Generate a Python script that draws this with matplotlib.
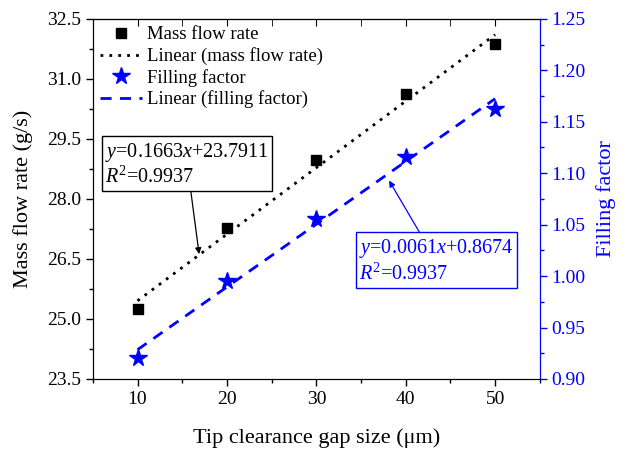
import matplotlib
matplotlib.use("Agg")
import matplotlib.pyplot as plt
from matplotlib.ticker import MultipleLocator

plt.rcParams['font.family'] = ['Liberation Serif', 'DejaVu Serif']
plt.rcParams['mathtext.fontset'] = 'custom'
plt.rcParams['mathtext.rm'] = 'Liberation Serif'
plt.rcParams['mathtext.it'] = 'Liberation Serif:italic'

# data
gap = [10, 20, 30, 40, 50]
mass_flow = [25.24, 27.28, 28.96, 30.62, 31.88]
filling = [0.92, 0.995, 1.055, 1.116, 1.162]

# fitted lines as printed on the chart
mass_fit = (0.1663, 23.7911)
fill_fit = (0.0061, 0.8674)
r2_mass = 0.9937
r2_fill = 0.9937

blue = '#0000ff'

fig = plt.figure(figsize=(6.27, 4.49), dpi=100)
ax = fig.add_axes([0.148, 0.156, 0.713, 0.802])
ax2 = ax.twinx()

fit_x = [gap[0], gap[-1]]
h1, = ax.plot(gap, mass_flow, 's', color='black', ms=7.2, ls='none', label='Mass flow rate')
h2, = ax.plot(fit_x, [mass_fit[0] * v + mass_fit[1] for v in fit_x], ls=(0, (1, 2.2)),
              color='black', lw=2, label='Linear (mass flow rate)')
h3, = ax2.plot(gap, filling, '*', color=blue, ms=13, ls='none', label='Filling factor')
h4, = ax2.plot(fit_x, [fill_fit[0] * v + fill_fit[1] for v in fit_x], ls=(0, (4, 3)),
               color=blue, lw=2, label='Linear (filling factor)')

ax.set_xlim(5, 55)
ax.set_ylim(23.5, 32.5)
ax2.set_ylim(0.90, 1.25)

ax.xaxis.set_major_locator(MultipleLocator(10))
ax.xaxis.set_minor_locator(MultipleLocator(5))
ax.yaxis.set_major_locator(MultipleLocator(1.5, offset=1.0))
ax.yaxis.set_minor_locator(MultipleLocator(0.75, offset=0.25))
ax2.yaxis.set_major_locator(MultipleLocator(0.05))
ax2.yaxis.set_minor_locator(MultipleLocator(0.025))
ax.yaxis.set_major_formatter(plt.FormatStrFormatter('%.1f'))
ax2.yaxis.set_major_formatter(plt.FormatStrFormatter('%.2f'))

ax.tick_params(which='both', direction='out', labelsize=14, width=1)
ax.tick_params(which='major', length=5)
ax.tick_params(which='minor', length=3)
ax2.tick_params(which='both', direction='out', labelsize=14, width=1, colors=blue)
ax2.tick_params(which='major', length=5)
ax2.tick_params(which='minor', length=3)
ax2.spines['right'].set_color(blue)

top = ax.secondary_xaxis('top')
top.xaxis.set_major_locator(MultipleLocator(10))
top.xaxis.set_minor_locator(MultipleLocator(5))
top.tick_params(which='both', direction='in', labeltop=False, length=5)

ax.set_xlabel('Tip clearance gap size (\u03bcm)', fontsize=16, labelpad=15)
ax.set_ylabel('Mass flow rate (g/s)', fontsize=16, labelpad=10)
ax2.set_ylabel('Filling factor', fontsize=16, color=blue, labelpad=7)

ax.legend(handles=[h1, h2, h3, h4], loc='upper left', bbox_to_anchor=(0.0, 1.0),
          frameon=False, fontsize=13.5, handlelength=2.2, handletextpad=0.3,
          labelspacing=0.2, borderaxespad=0.2, borderpad=0.2)

ax.annotate('$y$=%.4f$x$+%.4f\n$R^2$=%.4f' % (mass_fit[0], mass_fit[1], r2_mass),
            xy=(16.89, 26.62), xytext=(15.57, 28.86), ha='center', va='center',
            multialignment='left', fontsize=14.5,
            bbox=dict(boxstyle='square,pad=0.15', fc='white', ec='black', lw=1),
            arrowprops=dict(arrowstyle='-|>', color='black', lw=0.9, mutation_scale=9,
                            shrinkA=0, shrinkB=0))
ax2.annotate('$y$=%.4f$x$+%.4f\n$R^2$=%.4f' % (fill_fit[0], fill_fit[1], r2_fill),
             xy=(38.14, 1.0928), xytext=(43.42, 1.0147), ha='center', va='center',
             multialignment='left', fontsize=14.5, color=blue,
             bbox=dict(boxstyle='square,pad=0.15', fc='white', ec=blue, lw=1),
             arrowprops=dict(arrowstyle='-|>', color=blue, lw=0.9, mutation_scale=9,
                             shrinkA=0, shrinkB=0))

fig.savefig('out.png', dpi=100)
